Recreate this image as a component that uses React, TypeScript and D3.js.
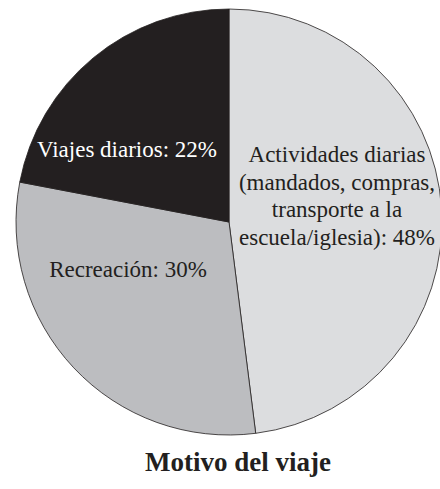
import React from "react";
import * as d3 from "d3";

const categories = ["Actividades diarias", "Recreación", "Viajes diarios"];
const values = [48, 30, 22];
const colors = ["#dcdddf", "#bcbdc0", "#231f20"];
const labelLines = [
  ["Actividades diarias", "(mandados, compras,", "transporte a la", "escuela/iglesia): 48%"],
  ["Recreación: 30%"],
  ["Viajes diarios: 22%"],
];
const labelColors = ["#231f20", "#231f20", "#ffffff"];
const title = "Motivo del viaje";

const W = 440;
const H = 489;
const cx = 229;
const cy = 222;
const R = 213;
const FONT = "'Liberation Serif', 'Times New Roman', Times, serif";
// label anchor points (x, first baseline y)
const labelPos: [number, number][] = [
  [337, 162],
  [128, 277],
  [127, 157],
];
const lineH = 27.7;

export default function App() {
  const pie = d3.pie<number>().value((d) => d).sort(null);
  const arcs = pie(values);
  const arcGen = d3.arc<d3.PieArcDatum<number>>().innerRadius(0).outerRadius(R);
  return (
    <svg
      width={W}
      height={H}
      style={{ position: "absolute", left: 0, top: 0, background: "#fff" }}
    >
      <g transform={`translate(${cx},${cy})`}>
        {arcs.map((a, i) => (
          <path
            key={categories[i]}
            d={arcGen(a) || ""}
            fill={colors[i]}
            stroke="#231f20"
            strokeWidth={0.8}
          />
        ))}
      </g>
      {labelLines.map((lines, i) => (
        <text
          key={i}
          x={labelPos[i][0]}
          y={labelPos[i][1]}
          style={{ fontFamily: FONT, fontSize: "23px" }}
          fill={labelColors[i]}
          textAnchor="middle"
        >
          {lines.map((l, j) => (
            <tspan key={j} x={labelPos[i][0]} y={labelPos[i][1] + j * lineH}>
              {l}
            </tspan>
          ))}
        </text>
      ))}
      <text
        x={238}
        y={471}
        style={{ fontFamily: FONT, fontSize: "27px", fontWeight: "bold" }}
        fill="#231f20"
        textAnchor="middle"
      >
        {title}
      </text>
    </svg>
  );
}
